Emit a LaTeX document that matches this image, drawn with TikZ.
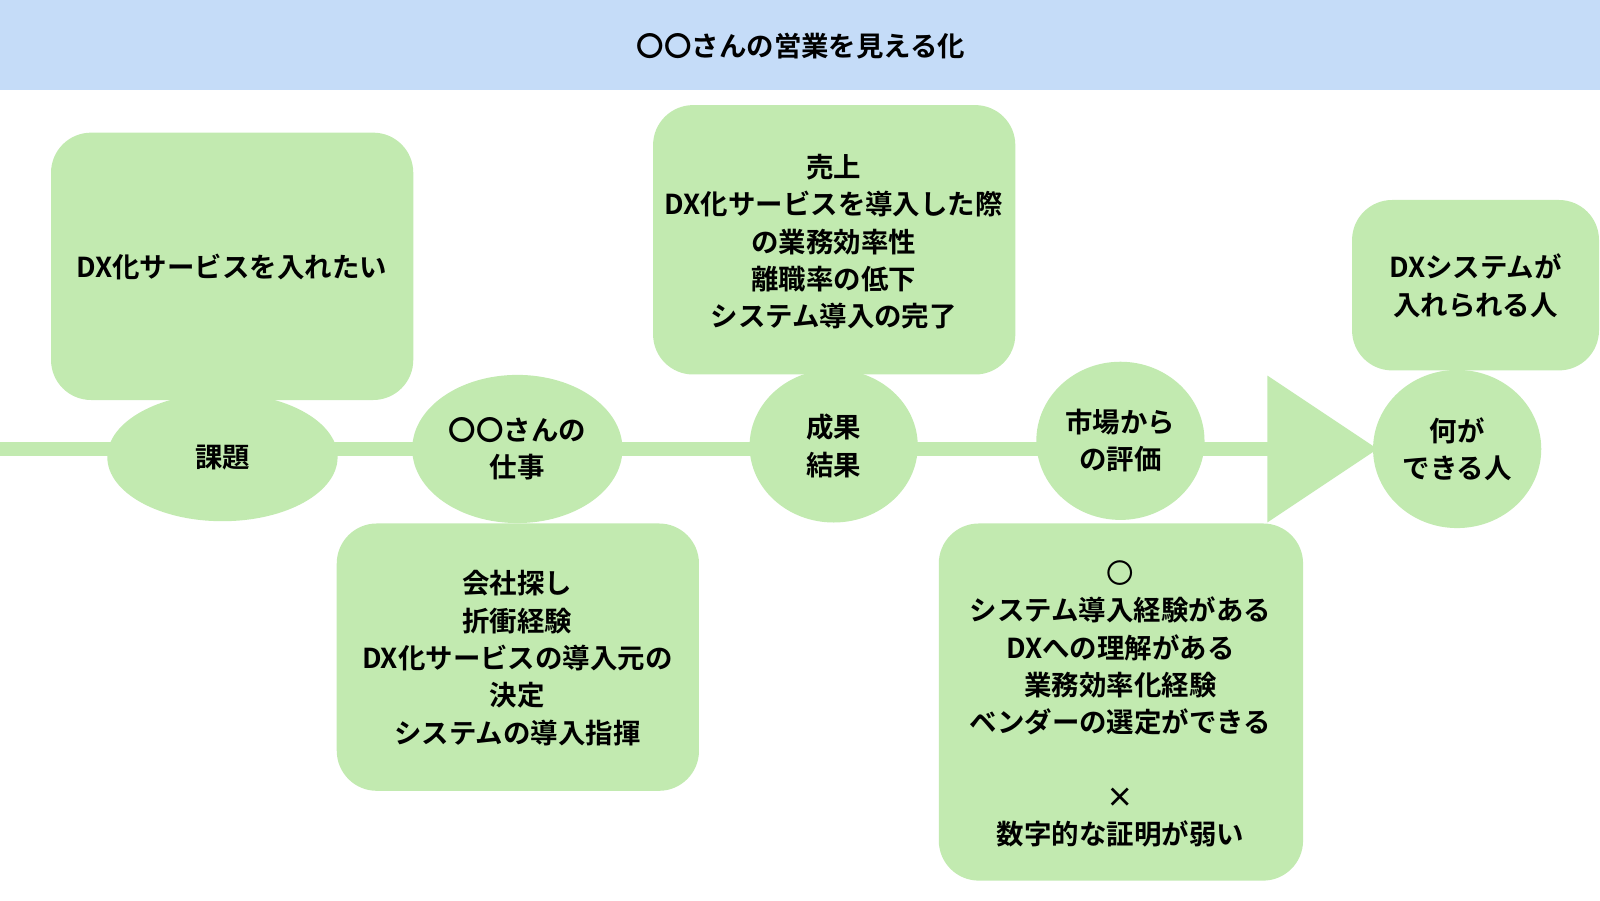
\documentclass[tikz,border=0pt]{standalone}
\usepackage{fontspec}
\setmainfont{Noto Sans CJK JP}[BoldFont={Noto Sans CJK JP Bold}]
\usetikzlibrary{shapes.geometric}
\definecolor{headblue}{HTML}{C5DCF8}
\definecolor{leaf}{HTML}{C2EAB0}
\begin{document}
\begin{tikzpicture}[x=0.0102cm,y=-0.0102cm,
        every node/.style={font=\bfseries\fontsize{7.8}{10.6}\selectfont,align=center},
        card/.style={fill=leaf,rounded corners=0.4cm},
        blob/.style={ellipse,fill=leaf,inner sep=0pt}]
\useasboundingbox (0,0) rectangle (1568,882);
\fill[headblue] (0,0) rectangle (1568,88);
\node (title) at (785,45) {〇〇さんの営業を見える化};

% timeline
\coordinate (start) at (0,440);
\coordinate (tip) at (1250,440);
\draw[leaf,line width=0.14cm] (start) -- (tip);
\fill[leaf] (1242,368) -- (1242,512) -- (1350,440) -- cycle;

% cards
\fill[card] (50,130) rectangle (405,392);
\node (issueTxt) at (227,262) {DX化サービスを入れたい};
\fill[card] (330,513) rectangle (685,775);
\node (workTxt) at (507,645) {会社探し\\折衝経験\\DX化サービスの導入元の\\決定\\システムの導入指揮};
\fill[card] (640,103) rectangle (995,367);
\node (resultTxt) at (817,237) {売上\\DX化サービスを導入した際\\の業務効率性\\離職率の低下\\システム導入の完了};
\fill[card] (920,513) rectangle (1277,863);
\node (marketTxt) at (1098,690) {{\mdseries 〇}\\システム導入経験がある\\DXへの理解がある\\業務効率化経験\\ベンダーの選定ができる\\ \\×\\数字的な証明が弱い};
\fill[card] (1325,196) rectangle (1567,363);
\node (canTxt) at (1446,280) {DXシステムが\\入れられる人};

% stages
\node[blob,minimum width=2.3cm,minimum height=1.28cm] (issue) at (218,448) {課題};
\node[blob,minimum width=2.1cm,minimum height=1.48cm] (work) at (507,440) {〇〇さんの\\仕事};
\node[blob,minimum width=1.68cm,minimum height=1.53cm] (result) at (817,437) {成果\\結果};
\node[blob,minimum width=1.68cm,minimum height=1.58cm] (market) at (1098,432) {市場から\\の評価};
\node[blob,minimum width=1.68cm,minimum height=1.58cm] (can) at (1428,440) {何が\\できる人};
\end{tikzpicture}
\end{document}
